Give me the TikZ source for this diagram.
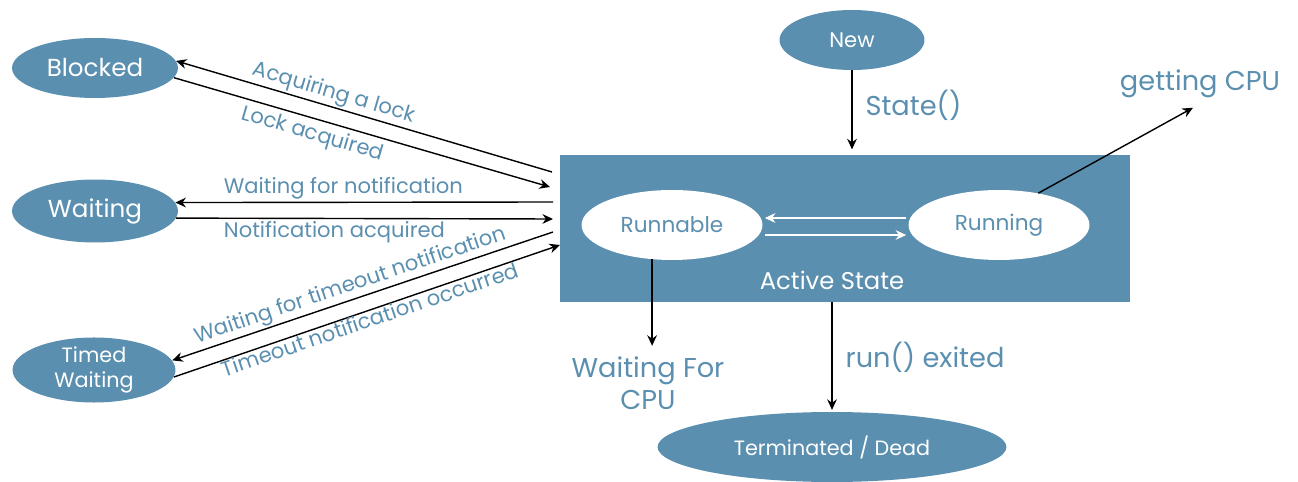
\documentclass[tikz,border=0pt]{standalone}
\usepackage{fontspec}
\setmainfont{Poppins}
\usetikzlibrary{shapes.geometric,arrows.meta,calc}
\definecolor{stateblue}{RGB}{91,143,176}

\begin{document}
\begin{tikzpicture}[x=0.02cm,y=-0.02cm,
  state/.style={ellipse,fill=stateblue,text=white,inner sep=0pt,font=\fontsize{14}{16}\selectfont},
  inside/.style={ellipse,fill=white,text=stateblue,inner sep=0pt,minimum width=3.62cm,minimum height=1.4cm,font=\fontsize{12.3}{14}\selectfont},
  arr/.style={-{Stealth[length=6pt,width=5.5pt]},line width=0.8pt},
  warr/.style={-{Stealth[length=6pt,width=5.5pt]},line width=0.9pt,white},
  lbl/.style={text=stateblue,font=\fontsize{12}{14}\selectfont},
  biglbl/.style={text=stateblue,font=\fontsize{15.5}{18}\selectfont}]
\useasboundingbox (0,0) rectangle (1298,482);

% states on the left
\node[state,minimum width=3.32cm,minimum height=1.2cm] (blk) at (95,68) {Blocked};
\node[state,minimum width=3.32cm,minimum height=1.26cm] (wtg) at (95,211) {Waiting};
\node[state,minimum width=3.26cm,minimum height=1.28cm,align=center,font=\fontsize{11.8}{14}\selectfont] (tmw) at (94,370) {Timed\\Waiting};

% new, active and dead
\node[state,minimum width=2.9cm,minimum height=1.2cm,font=\fontsize{12}{14}\selectfont] (new) at (852,40) {New};
\node[rectangle,fill=stateblue,minimum width=11.4cm,minimum height=2.94cm,inner sep=0pt] (act) at (845,228.5) {};
\node[inside] (rbl) at (672,225) {Runnable};
\node[inside] (run) at (999,225) {Running};
\node[text=white,font=\fontsize{13.8}{16}\selectfont] (acts) at (832,280) {Active State};
\node[state,minimum width=6.98cm,minimum height=1.4cm,font=\fontsize{11.8}{14}\selectfont] (trm) at (832,447) {Terminated / Dead};

\node[biglbl] (cpu) at (1200,84) {getting CPU};
\node[biglbl,align=center,inner sep=0pt] (wfc) at (648,383) {Waiting For\\CPU};

% free ends at the active state
\coordinate (b1) at (552,172);
\coordinate (b2) at (550,187);
\coordinate (w1) at (553,202);
\coordinate (w2) at (553,219);
\coordinate (t1) at (553,232);
\coordinate (t2) at (560,245);

\draw[arr] (b1) -- (blk.5) node[lbl,pos=0.59,sloped,above,inner sep=1pt]{Acquiring a lock};
\draw[arr] (blk.-7) -- (b2) node[lbl,pos=0.38,sloped,below,inner sep=2.5pt]{Lock acquired};
\draw[arr] (w1) -- (wtg.6) node[lbl,pos=0.555,above,inner sep=1.5pt]{Waiting for notification};
\draw[arr] (wtg.-5.5) -- (w2) node[lbl,pos=0.42,below,inner sep=1.5pt]{Notification acquired};
\draw[arr] (t1) -- (tmw.7) node[lbl,pos=0.52,sloped,above,inner sep=1pt]{Waiting for timeout notification};
\draw[arr] (tmw.-5) -- (t2) node[lbl,pos=0.5,sloped,below,inner sep=0pt]{Timeout notification occurred};

\draw[arr,shorten >=3pt] (new.south) -- (new.south |- act.north) node[biglbl,pos=0.42,right,xshift=4pt]{State()};
\draw[arr] (run.39) -- ([xshift=-4pt,yshift=-2pt]cpu.south);

\draw[warr] ($(run.west)+(-2,-7)$) -- ($(rbl.east)+(2,-7)$);
\draw[warr] ($(rbl.east)+(2,10)$) -- ($(run.west)+(-2,10)$);

\draw[arr,shorten >=6pt] (rbl.-120) -- (rbl.-120 |- wfc.north);
\draw[arr,shorten >=1pt] (act.south -| trm.north) -- (trm.north) node[biglbl,midway,right,xshift=4pt]{run() exited};
\end{tikzpicture}
\end{document}
